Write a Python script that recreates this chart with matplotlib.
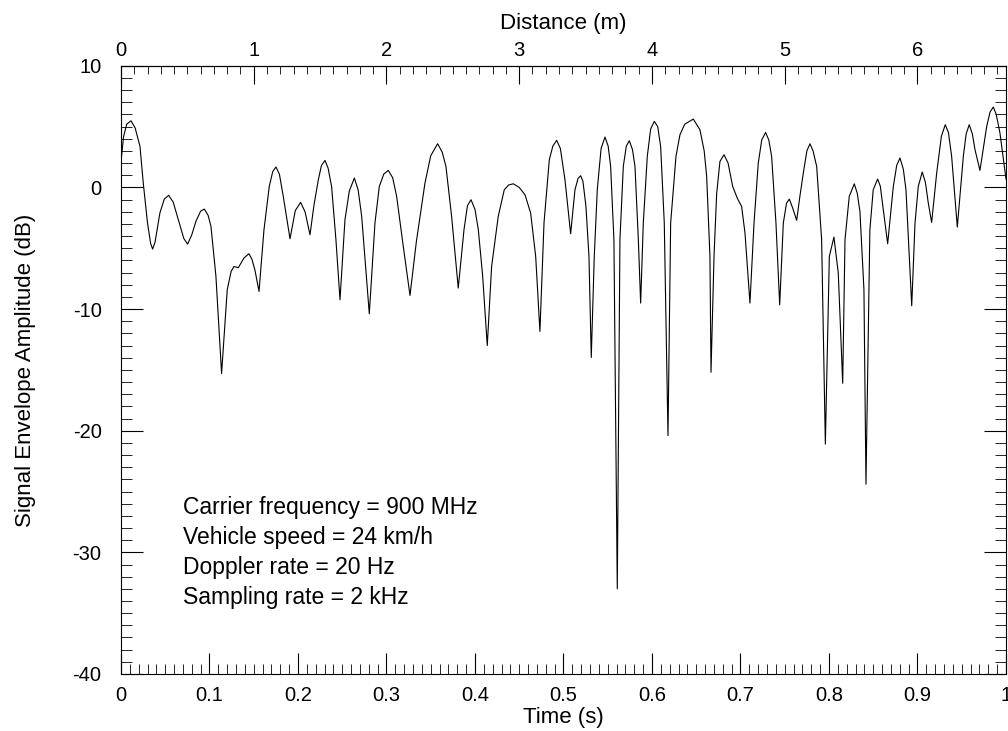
import numpy as np
import matplotlib
matplotlib.use("Agg")
import matplotlib.pyplot as plt
from matplotlib.ticker import MultipleLocator

plt.rcParams['font.family'] = ['Liberation Sans', 'DejaVu Sans']
plt.rcParams['axes.unicode_minus'] = False

# envelope (time in s, level in dB)
time_s = [0.000, 0.003, 0.0065, 0.0113, 0.016, 0.0215, 0.0252, 0.030, 0.0335, 0.0358,
          0.0385, 0.044, 0.049, 0.0539, 0.059, 0.0648, 0.071, 0.0753, 0.080, 0.0847,
          0.090, 0.0942, 0.0985, 0.1017, 0.1073, 0.1137, 0.1201, 0.1245, 0.1277, 0.1326,
          0.139, 0.1446, 0.148, 0.1514, 0.156, 0.1616, 0.1676, 0.1715, 0.1751, 0.179,
          0.1834, 0.191, 0.197, 0.203, 0.208, 0.2136, 0.218, 0.223, 0.2265, 0.2305,
          0.234, 0.238, 0.2429, 0.2475, 0.2531, 0.258, 0.2637, 0.268, 0.272, 0.2806,
          0.287, 0.2919, 0.297, 0.302, 0.307, 0.3115, 0.319, 0.3266, 0.3337, 0.3435,
          0.350, 0.3578, 0.363, 0.3672, 0.3736, 0.3811, 0.3876, 0.3915, 0.3955, 0.400,
          0.4038, 0.4087, 0.4139, 0.4188, 0.4263, 0.4331, 0.438, 0.4433, 0.450, 0.4565,
          0.4629, 0.4686, 0.4734, 0.478, 0.484, 0.488, 0.4923, 0.4965, 0.5017, 0.5081,
          0.513, 0.5165, 0.5194, 0.522, 0.5254, 0.5288, 0.5314, 0.5348, 0.5382, 0.5425,
          0.5469, 0.5505, 0.5533, 0.557, 0.5608, 0.5638, 0.5676, 0.571, 0.5744, 0.578,
          0.5808, 0.5846, 0.5872, 0.5902, 0.5947, 0.5985, 0.6026, 0.6065, 0.6098, 0.6139,
          0.6181, 0.6211, 0.6271, 0.6316, 0.637, 0.6467, 0.6542, 0.659, 0.6618, 0.6655,
          0.6667, 0.6701, 0.6731, 0.6768, 0.6814, 0.686, 0.6912, 0.6965, 0.7013, 0.7051,
          0.7107, 0.7153, 0.7201, 0.724, 0.7284, 0.732, 0.7352, 0.7401, 0.7443, 0.7484,
          0.752, 0.7552, 0.759, 0.7635, 0.767, 0.771, 0.775, 0.7785, 0.782, 0.7861,
          0.7917, 0.7959, 0.8004, 0.8056, 0.8105, 0.8155, 0.8181, 0.8229, 0.8286, 0.832,
          0.835, 0.8395, 0.8418, 0.8462, 0.850, 0.855, 0.858, 0.8614, 0.8663, 0.8727,
          0.8765, 0.8802, 0.884, 0.887, 0.8908, 0.8935, 0.8972, 0.9009, 0.9054, 0.909,
          0.9122, 0.916, 0.9217, 0.927, 0.9314, 0.935, 0.9386, 0.945, 0.9518, 0.955,
          0.9585, 0.962, 0.965, 0.9706, 0.9782, 0.982, 0.9857, 0.989, 0.9932, 1.0]
level_db = [2.1, 4.2, 5.2, 5.48, 4.9, 3.37, 0.36, -2.93, -4.6, -5.07,
            -4.5, -2.1, -0.95, -0.65, -1.2, -2.66, -4.2, -4.66, -3.9, -2.79,
            -1.95, -1.78, -2.3, -3.2, -7.3, -15.3, -8.4, -6.9, -6.5, -6.6,
            -5.8, -5.45, -5.9, -6.8, -8.55, -3.48, 0.1, 1.3, 1.68, 1.1,
            -0.74, -4.22, -1.9, -1.23, -2.0, -3.89, -1.5, 0.63, 1.8, 2.22,
            1.6, 0.08, -4.3, -9.24, -2.66, -0.3, 0.77, -0.2, -2.38, -10.39,
            -2.93, 0.08, 1.1, 1.4, 0.8, -0.74, -4.85, -8.88, -4.5, 0.36,
            2.6, 3.59, 2.9, 1.73, -2.38, -8.27, -3.48, -1.5, -1.01, -1.8,
            -3.48, -7.3, -13.0, -6.5, -2.38, -0.19, 0.2, 0.3, 0.0, -0.6,
            -2.1, -5.67, -11.84, -2.93, 2.28, 3.4, 3.87, 3.2, 0.63, -3.81,
            -0.19, 0.75, 0.96, 0.5, -1.56, -5.67, -13.98, -5.67, -0.19, 3.2,
            4.14, 3.4, 1.73, -4.3, -33.0, -4.3, 1.73, 3.4, 3.84, 3.1,
            1.73, -4.3, -9.51, -2.93, 2.55, 4.8, 5.43, 5.0, 3.37, -2.93,
            -20.4, -2.93, 2.55, 4.33, 5.2, 5.62, 4.74, 3.0, 0.9, -5.67,
            -15.2, -5.67, -0.5, 2.14, 2.69, 2.0, 0.08, -0.9, -1.56, -3.75,
            -9.51, -2.93, 2.0, 3.9, 4.52, 3.9, 2.55, -2.93, -9.65, -2.93,
            -1.3, -0.96, -1.7, -2.71, -0.8, 1.18, 3.0, 3.59, 3.0, 1.73,
            -4.3, -21.1, -5.67, -4.08, -7.04, -16.1, -4.3, -0.74, 0.3, -0.5,
            -2.0, -8.4, -24.4, -3.5, -0.19, 0.69, 0.1, -1.83, -4.63, 0.08,
            1.8, 2.42, 1.5, -0.19, -5.67, -9.73, -2.93, 0.08, 1.27, 0.4,
            -1.28, -2.88, 1.18, 4.2, 5.16, 4.5, 2.55, -3.26, 2.55, 4.4,
            5.16, 4.4, 3.1, 1.4, 5.02, 6.2, 6.61, 6.0, 4.47, 0.69]

notes = ["Carrier frequency = 900 MHz", "Vehicle speed = 24 km/h",
         "Doppler rate = 20 Hz", "Sampling rate = 2 kHz"]
time_ticks = [0, 0.1, 0.2, 0.3, 0.4, 0.5, 0.6, 0.7, 0.8, 0.9, 1]
time_labels = ['0', '0.1', '0.2', '0.3', '0.4', '0.5', '0.6', '0.7', '0.8', '0.9', '1']
dist_ticks = [0, 1, 2, 3, 4, 5, 6]
speed = 24 / 3.6  # m/s

fig = plt.figure(figsize=(10.08, 7.31), dpi=100)
ax = fig.add_axes([0.12, 0.078, 0.878, 0.832])
ax.plot(time_s, level_db, color='black', lw=0.8)

ax.set_xlim(0, 1)
ax.set_ylim(-40, 10)
ax.set_xticks(time_ticks)
ax.set_xticklabels(time_labels)
ax.xaxis.set_minor_locator(MultipleLocator(0.01))
ax.yaxis.set_major_locator(MultipleLocator(10))
ax.yaxis.set_minor_locator(MultipleLocator(1))
ax.tick_params(which='both', direction='in', right=True, top=False, labelsize=14.5)
ax.tick_params(axis='x', which='major', length=15, pad=9)
ax.tick_params(axis='x', which='minor', length=7)
ax.tick_params(axis='y', which='major', length=16, pad=14)
ax.tick_params(axis='y', which='minor', length=8)
ax.set_xlabel('Time (s)', fontsize=16, labelpad=1)
ax.set_ylabel('Signal Envelope Amplitude (dB)', fontsize=16, labelpad=26)

top = ax.secondary_xaxis('top', functions=(lambda t: t * speed, lambda d: d / speed))
top.set_xticks(dist_ticks)
top.xaxis.set_minor_locator(MultipleLocator(0.1))
top.tick_params(which='both', direction='in', labelsize=14.5, pad=4)
top.tick_params(which='major', length=13)
top.tick_params(which='minor', length=6)
top.set_xlabel('Distance (m)', fontsize=16, labelpad=9)

for i, s in enumerate(notes):
    ax.text(0.0704, -26.83 - 2.47 * i, s, fontsize=16.5, va='baseline', ha='left')

fig.savefig('out.png', dpi=100)
